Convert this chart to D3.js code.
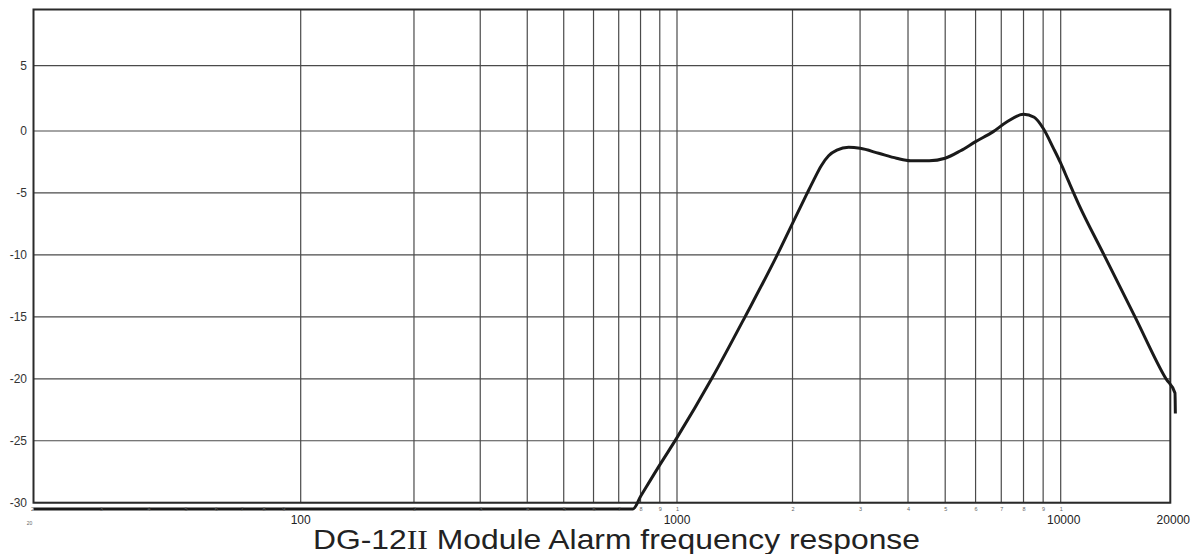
<!DOCTYPE html>
<html><head><meta charset="utf-8">
<script src="https://cdn.jsdelivr.net/npm/d3@7"></script>
<style>html,body{margin:0;padding:0;background:#fff;}svg{display:block;}</style>
</head><body>
<svg id="chart" width="1201" height="554"></svg>
<script>
// ---- data ----
const dbTicks = [5, 0, -5, -10, -15, -20, -25, -30];
const gridFreqs = [100, 200, 300, 400, 500, 600, 700, 800, 900,
                   1000, 2000, 3000, 4000, 5000, 6000, 7000, 8000, 9000, 10000];
const majorFreqs = [100, 1000, 10000, 20000];
const majorLabels = ["100", "1000", "10000", "20000"];
const minorFreqs = [20, 30, 40, 50, 60, 70, 80, 90,
                    200, 300, 400, 500, 600, 700, 800, 900, 1000,
                    2000, 3000, 4000, 5000, 6000, 7000, 8000, 9000, 10000];
const minorLabels = ["2","3","4","5","6","7","8","9",
                     "2","3","4","5","6","7","8","9","1",
                     "2","3","4","5","6","7","8","9","1"];
const startFreqLabel = "20";
const respFreq = [20, 764, 800, 900, 1000, 1236, 1504, 1825, 2000, 2178, 2276, 2377, 2484, 2610, 2801,
                  3000, 3354, 3734, 4061, 4545, 5000, 5485, 6000, 6672, 7247, 8000, 8530,
                  9000, 9576, 10000, 10470, 11200, 13150, 16000, 19460, 20600, 20650];
const respDb   = [-30.5, -30.5, -29.5, -26.95, -24.75, -19.9, -15, -10, -7.45, -5.1, -3.9, -2.8, -2.0, -1.55, -1.32,
                  -1.40, -1.80, -2.2, -2.4, -2.4, -2.2, -1.59, -0.86, -0.05, 0.71, 1.28, 1.05,
                  0.21, -1.40, -2.6, -3.95, -5.9, -10, -15, -20, -21.15, -22.8];
const titleA = "DG-12", titleB = "II", titleC = " Module Alarm frequency response";

// ---- scales ----
const svg = d3.select("#chart");
const x = d3.scaleLog().domain([20, 100, 1000, 10000, 20000])
  .range([33.5, 300.7, 677, 1060.7, 1170.3]);
const y = d3.scaleLinear().domain([-30, 0, 9.3]).range([502.7, 131, 9.5]);
const x0 = x(20), x1 = x(20000), yTop = y(9.3), yBot = y(-30);

svg.append("rect").attr("width", 1201).attr("height", 554).attr("fill", "#fff");

// grid
svg.append("g").selectAll("line").data(dbTicks).join("line")
  .attr("x1", x0).attr("x2", x1)
  .attr("y1", d => y(d)).attr("y2", d => y(d))
  .attr("stroke", "#4a4a4a").attr("stroke-width", 1.2);
svg.append("g").selectAll("line").data(gridFreqs).join("line")
  .attr("x1", d => x(d)).attr("x2", d => x(d))
  .attr("y1", yTop).attr("y2", yBot)
  .attr("stroke", "#4a4a4a").attr("stroke-width", 1.2);

// frame
svg.append("rect").attr("x", x0).attr("y", yTop)
  .attr("width", x1 - x0).attr("height", yBot - yTop)
  .attr("fill", "none").attr("stroke", "#2a2a2a").attr("stroke-width", 2);

// y labels
svg.append("g").selectAll("text").data(dbTicks).join("text")
  .attr("x", x0 - 6.5).attr("y", d => y(d)).attr("dy", "0.35em")
  .attr("text-anchor", "end")
  .attr("font-family", "Liberation Sans, Arial, sans-serif").attr("font-size", 12)
  .attr("fill", "#333").text(d => d);

// curve
const line = d3.line().x(d => x(d[0])).y(d => y(d[1])).curve(d3.curveMonotoneX);
svg.append("path").datum(respFreq.map((f, i) => [f, respDb[i]]))
  .attr("d", line).attr("fill", "none")
  .attr("stroke", "#1a1a1a").attr("stroke-width", 3).attr("stroke-linejoin", "round");

// minor labels
svg.append("g").selectAll("text").data(minorFreqs).join("text")
  .attr("x", d => x(d) + (d === 20 ? -1 : 0.5)).attr("y", 510.5)
  .attr("text-anchor", "middle")
  .attr("font-family", "Liberation Sans, Arial, sans-serif").attr("font-size", 5.5)
  .attr("fill", "#666").text((d, i) => minorLabels[i]);
svg.append("text").attr("x", x(20) - 4).attr("y", 525)
  .attr("text-anchor", "middle")
  .attr("font-family", "Liberation Sans, Arial, sans-serif").attr("font-size", 5)
  .attr("fill", "#666").text(startFreqLabel);

// major labels
svg.append("g").selectAll("text").data(majorFreqs).join("text")
  .attr("x", d => x(d) + (d >= 10000 ? 3 : 0)).attr("y", 524)
  .attr("text-anchor", "middle")
  .attr("font-family", "Liberation Sans, Arial, sans-serif").attr("font-size", 12)
  .attr("fill", "#222").text((d, i) => majorLabels[i]);

// title
const t = svg.append("text").attr("x", 313).attr("y", 548.5)
  .attr("font-family", "Liberation Sans, Arial, sans-serif").attr("font-size", 28)
  .attr("fill", "#222").attr("textLength", 607).attr("lengthAdjust", "spacingAndGlyphs");
t.append("tspan").text(titleA);
t.append("tspan").attr("font-family", "Liberation Serif, Times New Roman, serif").text(titleB);
t.append("tspan").text(titleC);
</script>
</body></html>
